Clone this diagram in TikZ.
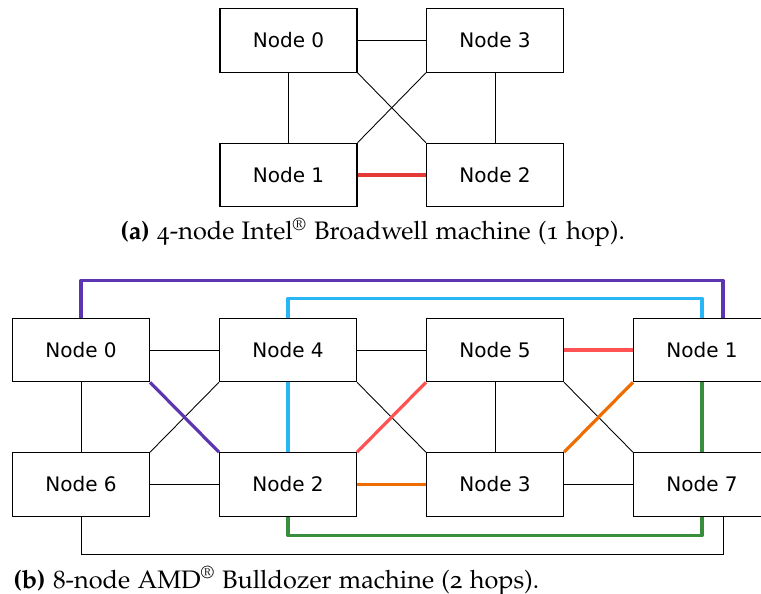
\documentclass[tikz,border=0pt]{standalone}
\usepackage{fontspec}
\usepackage[T1]{fontenc}
\usepackage[osf]{mathpazo}
\usepackage{xcolor}
\usepackage{tikz}

\newfontfamily\nodefont{DejaVu Sans}

\definecolor{hopred}{HTML}{E53935}
\definecolor{hoplight}{HTML}{FF5252}
\definecolor{hoporange}{HTML}{EF6C00}
\definecolor{hoppurple}{HTML}{5E35B1}
\definecolor{hopcyan}{HTML}{29B6F6}
\definecolor{hopgreen}{HTML}{388E3C}

\tikzset{
    box/.style = {rectangle, line width = 0.6pt, draw = black, fill = white, inner sep = 0pt, minimum width = 2.74cm, minimum height = 1.27cm, font = \nodefont\fontsize{11.4}{13}\selectfont},
    link/.style = {line width = 0.5pt, draw = black},
    hop/.style = {line width = 1.8pt, line join = round},
    caption/.style = {anchor = base west, inner sep = 0pt, font = \fontsize{14.4}{16}\selectfont}
}

\begin{document}
\begin{tikzpicture}[x = 0.02cm, y = -0.02cm]

    \useasboundingbox (0, 0) rectangle (761, 594);

    % (a) four nodes
    \node[box] (a0) at (288.5, 40.5) {Node 0};
    \node[box] (a3) at (495, 40.5) {Node 3};
    \node[box] (a1) at (288.5, 175) {Node 1};
    \node[box] (a2) at (495, 175) {Node 2};

    \draw [link] (a0) -- (a3);
    \draw [link] (a0) -- (a1);
    \draw [link] (a3) -- (a2);
    \draw [link] (a0.south east) -- (a2.north west);
    \draw [link] (a3.south west) -- (a1.north east);
    \draw [hop, draw = hopred] (a1) -- (a2);

    \node[caption] (capa) at (120, 240) {\textbf{(a)} 4-node Intel\textsuperscript{\textregistered} Broadwell machine (1~hop).};

    % (b) eight nodes
    \node[box] (b0) at (81, 350) {Node 0};
    \node[box] (b4) at (288, 350) {Node 4};
    \node[box] (b5) at (495, 350) {Node 5};
    \node[box] (b1) at (702, 350) {Node 1};
    \node[box] (b6) at (81, 484.5) {Node 6};
    \node[box] (b2) at (288, 484.5) {Node 2};
    \node[box] (b3) at (495, 484.5) {Node 3};
    \node[box] (b7) at (702, 484.5) {Node 7};

    \draw [link] (b0) -- (b4);
    \draw [link] (b4) -- (b5);
    \draw [link] (b0) -- (b6);
    \draw [link] (b6) -- (b2);
    \draw [link] (b3) -- (b7);
    \draw [link] (b5) -- (b3);
    \draw [link] (b6.north east) -- (b4.south west);
    \draw [link] (b4.south east) -- (b3.north west);
    \draw [link] (b5.south east) -- (b7.north west);
    \draw [link] (b6.south) -- ++(0, 37.75) -| ([xshift = 0.42cm] b7.south);

    % two-hop routes
    \draw [hop, draw = hoppurple] (b0.south east) -- (b2.north west);
    \draw [hop, draw = hoppurple] (b0.north) -- ++(0, -37.25) -| ([xshift = 0.42cm] b1.north);
    \draw [hop, draw = hopcyan] (b4) -- (b2);
    \draw [hop, draw = hopcyan] (b4.north) -- ++(0, -19.25) -| (b1.north);
    \draw [hop, draw = hoplight] (b5) -- (b1);
    \draw [hop, draw = hoplight] (b2.north east) -- (b5.south west);
    \draw [hop, draw = hoporange] (b2) -- (b3);
    \draw [hop, draw = hoporange] (b3.north east) -- (b1.south west);
    \draw [hop, draw = hopgreen] (b1) -- (b7);
    \draw [hop, draw = hopgreen] (b7.south) -- ++(0, 18.75) -| (b2.south);

    \node[caption] (capb) at (13, 588) {\textbf{(b)} 8-node AMD\textsuperscript{\textregistered} Bulldozer machine (2~hops).};

\end{tikzpicture}
\end{document}
